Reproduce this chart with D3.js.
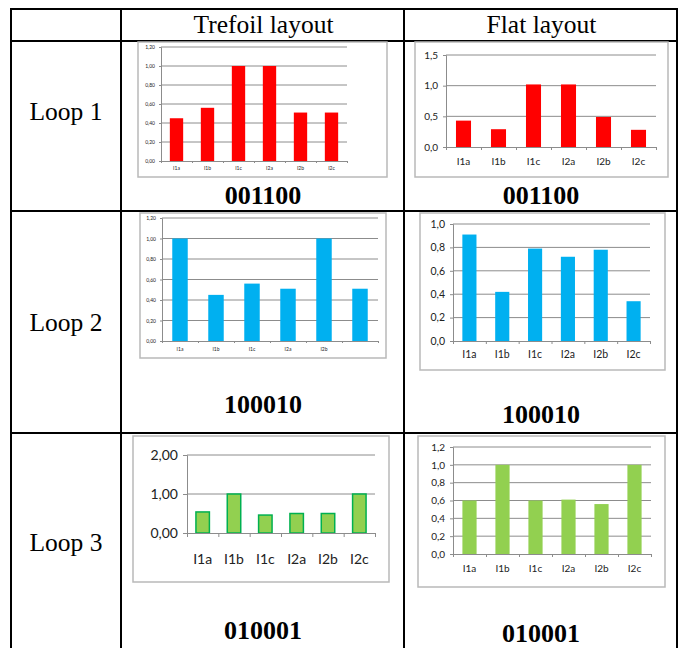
<!DOCTYPE html>
<html>
<head>
<meta charset="utf-8">
<script src="https://cdn.jsdelivr.net/npm/d3@7"></script>
<style>
  html, body { margin: 0; padding: 0; background: #fff; }
  svg { display: block; }
</style>
</head>
<body>
<svg id="chart" width="683" height="648"></svg>
<script>
// ---- data ----
const categories = ["I1a", "I1b", "I1c", "I2a", "I2b", "I2c"];
const categoriesLoop2Trefoil = ["I1a", "I1b", "I1c", "I2a", "I2b", ""];

const trefoilLoop1 = [0.45, 0.56, 1.00, 1.00, 0.51, 0.51];
const flatLoop1    = [0.43, 0.29, 1.02, 1.02, 0.49, 0.28];
const trefoilLoop2 = [1.00, 0.45, 0.56, 0.51, 1.00, 0.51];
const flatLoop2    = [0.91, 0.42, 0.79, 0.72, 0.78, 0.34];
const trefoilLoop3 = [0.54, 1.00, 0.46, 0.50, 0.50, 1.00];
const flatLoop3    = [0.60, 1.00, 0.60, 0.61, 0.56, 1.00];

const ticksTrefoil12 = [0, 0.2, 0.4, 0.6, 0.8, 1.0, 1.2];
const ticksFlat1     = [0, 0.5, 1.0, 1.5];
const ticksFlat2     = [0, 0.2, 0.4, 0.6, 0.8, 1.0];
const ticksTrefoil3  = [0, 1, 2];
const ticksFlat3     = [0, 0.2, 0.4, 0.6, 0.8, 1.0, 1.2];

const columnHeaders = ["Trefoil layout", "Flat layout"];
const rowHeaders = ["Loop 1", "Loop 2", "Loop 3"];
const loopCodes = ["001100", "100010", "010001"];

// ---- formatting (decimal comma) ----
const loc = d3.formatLocale({ decimal: ",", thousands: ".", grouping: [3], currency: ["", ""] });
const fmt2 = loc.format(".2f");
const fmt1 = loc.format(".1f");

const svg = d3.select("#chart");

// ---- table grid ----
const tbl = { left: 11, right: 677, top: 9, bottom: 649 };
const colX = [tbl.left, 121, 404, tbl.right];
const rowY = [tbl.top, 41, 211, 433, tbl.bottom];
const grid = svg.append("g").attr("stroke", "#000").attr("stroke-width", 2);
colX.forEach(x => grid.append("line").attr("x1", x).attr("x2", x).attr("y1", tbl.top - 1).attr("y2", tbl.bottom));
rowY.forEach(y => grid.append("line").attr("x1", tbl.left - 1).attr("x2", tbl.right + 1).attr("y1", y).attr("y2", y));

const serif = "'Liberation Serif', 'Times New Roman', serif";
const chartFont = "Lato, 'Open Sans', sans-serif";

svg.selectAll("text.colhead").data(columnHeaders).enter().append("text")
  .attr("x", (d, i) => (colX[i + 1] + colX[i + 2]) / 2 + 1)
  .attr("y", 33)
  .attr("text-anchor", "middle")
  .attr("font-family", serif).attr("font-size", 25.5)
  .text(d => d);

const rowTextY = [120, 331, 551];
svg.selectAll("text.rowhead").data(rowHeaders).enter().append("text")
  .attr("x", 66).attr("y", (d, i) => rowTextY[i])
  .attr("text-anchor", "middle")
  .attr("font-family", serif).attr("font-size", 25.5)
  .text(d => d);

// ---- panels ----
function drawPanel(p) {
  const g = svg.append("g");
  g.append("rect")
    .attr("x", p.box[0]).attr("y", p.box[1])
    .attr("width", p.box[2] - p.box[0]).attr("height", p.box[3] - p.box[1])
    .attr("fill", "#fff").attr("stroke", "#b9b9b9").attr("stroke-width", 1.5);

  const [x0, y0, x1, y1] = p.plot;
  const y = d3.scaleLinear().domain([0, d3.max(p.ticks)]).range([y1, y0]);
  const x = d3.scaleBand().domain(d3.range(p.values.length)).range([x0, x1])
    .paddingInner(0.57).paddingOuter(0.285);
  const slots = d3.scaleLinear().domain([0, p.values.length]).range([x0, x1]);

  // horizontal gridlines
  g.append("g").selectAll("line").data(p.ticks.filter(t => t > 0)).enter().append("line")
    .attr("x1", x0).attr("x2", x1)
    .attr("y1", d => y(d)).attr("y2", d => y(d))
    .attr("stroke", "#8c8c8c").attr("stroke-width", 1);

  // bars
  g.append("g").selectAll("rect").data(p.values).enter().append("rect")
    .attr("x", (d, i) => x(i)).attr("width", x.bandwidth())
    .attr("y", d => y(d)).attr("height", d => y(0) - y(d))
    .attr("fill", p.fill)
    .attr("stroke", p.stroke || "none").attr("stroke-width", p.stroke ? 1.5 : 0);

  // y axis
  const ya = g.append("g").attr("transform", `translate(${x0},0)`)
    .call(d3.axisLeft(y).tickValues(p.ticks).tickFormat(p.fmt).tickSize(p.tick).tickPadding(p.pad));
  ya.selectAll("path, line").attr("stroke", "#8c8c8c");
  ya.selectAll("text").attr("font-family", chartFont).attr("font-size", p.font).attr("fill", "#222");

  // x axis: category boundary ticks
  const xt = g.append("g").attr("transform", `translate(0,${y1})`)
    .call(d3.axisBottom(slots).tickValues(d3.range(p.values.length + 1)).tickFormat("").tickSize(p.tick).tickSizeOuter(0));
  xt.selectAll("path, line").attr("stroke", "#8c8c8c");

  // x axis: category labels
  const xl = g.append("g").attr("transform", `translate(0,${y1})`)
    .call(d3.axisBottom(x).tickFormat(i => p.labels[i]).tickSize(0).tickPadding(p.labelPad));
  xl.select("path").remove();
  xl.selectAll("text").attr("font-family", chartFont).attr("font-size", p.font).attr("fill", "#222");

  // loop code caption
  svg.append("text")
    .attr("x", p.caption[0]).attr("y", p.caption[1])
    .attr("text-anchor", "middle")
    .attr("font-family", serif).attr("font-weight", "bold").attr("font-size", 26)
    .text(p.code);
}

const red = "#ff0000", blue = "#00b0f0", green = "#92d050";

const panels = [
  { box: [138, 42, 387, 177], plot: [161, 47, 347, 161], values: trefoilLoop1, labels: categories,
    ticks: ticksTrefoil12, fmt: fmt2, font: 5, tick: 2, pad: 4, labelPad: 5, fill: red,
    caption: [263, 204], code: loopCodes[0] },
  { box: [415, 42, 668, 177], plot: [446, 55, 656, 147], values: flatLoop1, labels: categories,
    ticks: ticksFlat1, fmt: fmt1, font: 10, tick: 3, pad: 5, labelPad: 11, fill: red,
    caption: [541, 204], code: loopCodes[0] },
  { box: [140, 213, 386, 358], plot: [162, 218, 378, 341], values: trefoilLoop2, labels: categoriesLoop2Trefoil,
    ticks: ticksTrefoil12, fmt: fmt2, font: 5, tick: 2, pad: 4, labelPad: 6, fill: blue,
    caption: [263, 413], code: loopCodes[1] },
  { box: [420, 213, 665, 370], plot: [453, 224, 650, 341], values: flatLoop2, labels: categories,
    ticks: ticksFlat2, fmt: fmt1, font: 10.5, tick: 3, pad: 5, labelPad: 10, fill: blue,
    caption: [541, 423], code: loopCodes[1] },
  { box: [133, 436, 389, 582], plot: [187, 455, 375, 533], values: trefoilLoop3, labels: categories,
    ticks: ticksTrefoil3, fmt: fmt2, font: 14, tick: 4, pad: 5, labelPad: 21, fill: green, stroke: "#00b050",
    caption: [263, 639], code: loopCodes[2] },
  { box: [418, 436, 665, 587], plot: [453, 447, 651, 554], values: flatLoop3, labels: categories,
    ticks: ticksFlat3, fmt: fmt1, font: 10, tick: 3, pad: 5, labelPad: 11, fill: green,
    caption: [541, 642], code: loopCodes[2] }
];

panels.forEach(drawPanel);
</script>
</body>
</html>
